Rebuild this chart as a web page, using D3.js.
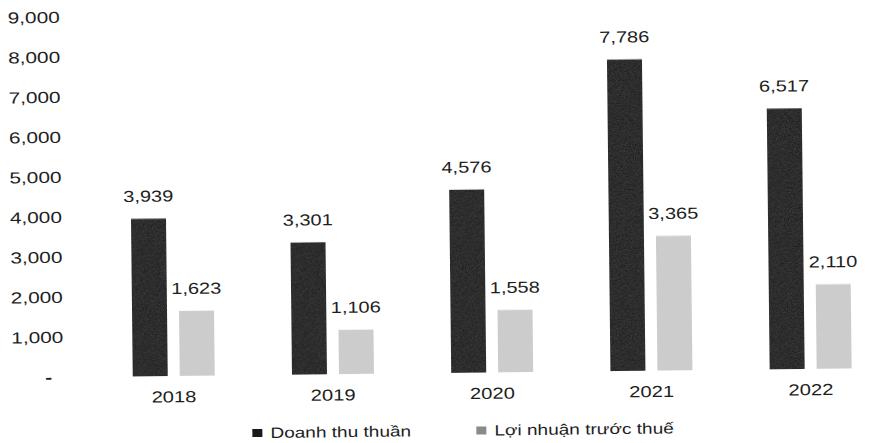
<!DOCTYPE html>
<html><head><meta charset="utf-8">
<script src="https://cdn.jsdelivr.net/npm/d3@7"></script>
<style>body{margin:0;background:#fff}svg{display:block}text{font-family:"Liberation Sans",Arial,sans-serif;fill:#1e1e1e}</style>
</head><body>
<svg id="c" width="885" height="443"></svg>
<script>
const years = ["2018","2019","2020","2021","2022"];
const revenue = [3939,3301,4576,7786,6517];
const profit = [1623,1106,1558,3365,2110];
const yTicks = [0,1000,2000,3000,4000,5000,6000,7000,8000,9000];
const seriesNames = ["Doanh thu thuần","Lợi nhuận trước thuế"];
const colors = ["#080808","#cdcdcd"];
const legendColors = ["#1a1a1a","#8a8a8a"];

const svg = d3.select("#c");
const defs = svg.append("defs");
const f = defs.append("filter").attr("id","grain").attr("x",0).attr("y",0).attr("width",1).attr("height",1);
f.append("feTurbulence").attr("type","fractalNoise").attr("baseFrequency",1.2).attr("numOctaves",2).attr("seed",5).attr("result","n");
f.append("feColorMatrix").attr("in","n").attr("type","saturate").attr("values",0).attr("result","g");
f.append("feComponentTransfer").attr("in","g").attr("result","g2")
  .append("feFuncA").attr("type","linear").attr("slope",0.1);
f.append("feComposite").attr("in","g2").attr("in2","SourceGraphic").attr("operator","atop");

const g = svg.append("g").attr("transform","rotate(-0.64,440,220)");

const y = d3.scaleLinear().domain([0,9000]).range([373,13]);
const x0 = d3.scaleBand().domain(years).range([92.4,888.6]).paddingInner(0).paddingOuter(0);
const groupW = 82;
const x1 = d3.scaleBand().domain([0,1]).range([0,groupW]).paddingInner(0.255);
const groupOffset = (x0.bandwidth()-groupW)/2;

const fmt = d3.format(",");
const yAxis = d3.axisLeft(y).tickValues(yTicks).tickSize(0).tickPadding(0)
  .tickFormat(d => d===0 ? "-" : fmt(d));
const ax = g.append("g").attr("transform","translate(62,0)").call(yAxis);
ax.select(".domain").remove();
ax.selectAll("text").attr("font-size",16).attr("font-family","Liberation Sans, Arial, sans-serif")
  .attr("fill","#1e1e1e").attr("transform","scale(1.3,1)");
ax.selectAll(".tick").filter(d=>d===0).select("text").attr("dx",-9).attr("font-weight","bold");

const data = years.map((yr,i)=>({yr, vals:[revenue[i],profit[i]]}));
const grp = g.selectAll(".grp").data(data).join("g")
  .attr("transform",d=>`translate(${x0(d.yr)+groupOffset},0)`);
grp.selectAll("rect").data(d=>d.vals).join("rect")
  .attr("x",(d,i)=>x1(i)).attr("width",x1.bandwidth())
  .attr("y",d=>y(d)).attr("height",d=>y(0)-y(d))
  .attr("fill",(d,i)=>colors[i]).attr("filter","url(#grain)");
grp.selectAll("text.v").data(d=>d.vals).join("text").attr("class","v")
  .attr("transform",(d,i)=>`translate(${x1(i)+x1.bandwidth()/2},${y(d)-17}) scale(1.25,1)`)
  .attr("text-anchor","middle").attr("font-size",16).text(d=>fmt(d));

const xAxis = d3.axisBottom(x0).tickSize(0).tickPadding(0);
const xa = g.append("g").attr("transform",`translate(0,${y(0)+15})`).call(xAxis);
xa.select(".domain").remove();
xa.selectAll("text").attr("font-size",16).attr("font-family","Liberation Sans, Arial, sans-serif")
  .attr("fill","#1e1e1e").attr("transform","scale(1.26,1)");

const legX = [250,474];
const leg = g.selectAll(".leg").data(seriesNames).join("g").attr("class","leg")
  .attr("transform",(d,i)=>`translate(${legX[i]},436)`);
leg.append("rect").attr("x",0).attr("y",-9).attr("width",10).attr("height",8).attr("fill",(d,i)=>legendColors[i]);
leg.append("text").attr("transform","translate(18,0) scale(1.27,1)").attr("font-size",15).text(d=>d);
</script>
</body></html>
